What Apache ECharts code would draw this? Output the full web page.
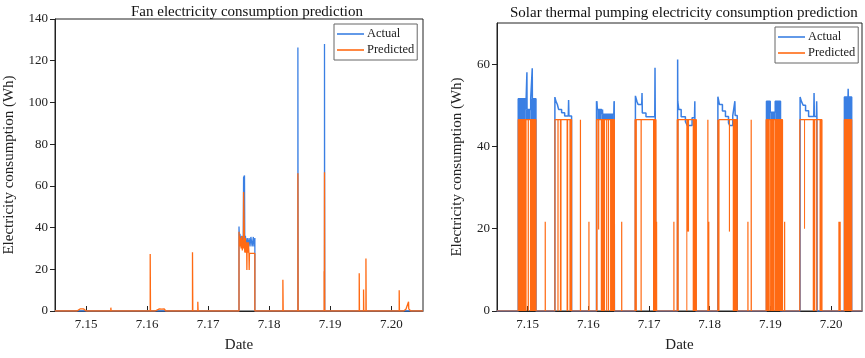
<!DOCTYPE html>
<html>
<head>
<meta charset="utf-8">
<script src="https://cdn.jsdelivr.net/npm/echarts@6/dist/echarts.min.js"></script>
<style>html,body{margin:0;padding:0;background:#fff}#chart{width:865px;height:358px}</style>
</head>
<body>
<div id="chart"></div>
<script>
// x values are days of July (15 -> "7.15")
var dayTicks = [15, 16, 17, 18, 19, 20];
var fanYTicks = [0, 20, 40, 60, 80, 100, 120, 140];
var pumpYTicks = [0, 20, 40, 60];

// fan electricity consumption (Wh)
var fanActual = [
  [14.49,0],[17.505,0],[17.505,40.5],[17.51,36],[17.52,37],[17.53,34],[17.55,36],[17.565,33],[17.575,36],
  [17.58,64],[17.595,65],[17.6,33],[17.61,36],[17.625,30],[17.64,35],[17.655,31],[17.67,35],[17.685,31],
  [17.7,35.5],[17.72,31],[17.74,35.5],[17.75,31],[17.765,35],[17.765,0],
  [18.47,0],[18.47,126.3],[18.474,0],[18.906,0],[18.906,128],[18.91,0],[20.52,0]
];
var fanPredicted = [
  [14.49,0],[14.85,0],[14.87,0.8],[14.9,1],[14.93,0.7],[14.96,1],[14.99,0.8],[15.0,0],
  [15.405,0],[15.405,1.6],[15.41,0],
  [16.05,0],[16.05,27.3],[16.055,0],
  [16.13,0],[16.16,0.8],[16.2,1],[16.24,0.9],[16.28,1],[16.3,1.6],[16.305,0],
  [16.743,0],[16.743,28.2],[16.748,0],
  [16.83,0],[16.83,4.4],[16.835,0],
  [17.505,0],[17.505,38],[17.51,33],[17.515,36],[17.52,31],[17.53,35],[17.54,30],[17.55,36],[17.56,29],
  [17.57,34],[17.578,30],[17.58,57],[17.59,57],[17.595,32],[17.6,28],[17.61,35],[17.62,28],[17.63,33],
  [17.634,19.7],[17.638,33],[17.65,28],[17.66,33],[17.668,27.6],[17.672,19.7],[17.676,27.6],[17.765,27.6],[17.765,0],
  [18.224,0],[18.224,15],[18.229,0],
  [18.47,0],[18.47,66],[18.474,0],
  [18.9,0],[18.9,19],[18.903,0],[18.906,0],[18.906,66.5],[18.91,0],
  [19.475,0],[19.475,18.1],[19.479,0],
  [19.546,0],[19.546,10.3],[19.55,0],
  [19.585,0],[19.585,25.2],[19.589,0],
  [20.13,0],[20.13,9.9],[20.134,0],
  [20.2,0],[20.24,0.8],[20.27,1],[20.283,4.4],[20.287,1],[20.31,1.2],[20.32,0],
  [20.52,0]
];

// solar thermal pumping electricity consumption (Wh)
var pumpActual = [
  [14.49,0],
  [14.845,0],[14.845,51.6],[14.97,51.6],[14.97,49],[14.988,49],[14.988,58],[14.99,49],[15.05,49],[15.05,51.6],
  [15.076,51.6],[15.076,59],[15.078,51.6],[15.137,51.6],[15.137,0],
  [15.449,0],[15.449,52],[15.465,52],[15.465,51],[15.49,51],[15.49,50.2],[15.51,50.2],[15.51,49],[15.56,49],
  [15.56,48.2],[15.61,48.2],[15.61,47.4],[15.67,47.4],[15.675,51.3],[15.68,47.4],[15.724,47.4],[15.724,0],
  [16.135,0],[16.135,51],[16.15,51],[16.15,49],[16.22,49],[16.22,47.8],[16.232,47.8],[16.234,49],[16.236,47.8],
  [16.42,47.8],[16.425,51],[16.43,51],[16.43,0],
  [16.776,0],[16.776,52.3],[16.8,52.3],[16.8,51],[16.82,51],[16.82,50.2],[16.88,50.2],[16.885,53],[16.89,48.1],
  [16.95,48.1],[16.95,47.2],[17.095,47.2],[17.099,59.1],[17.103,47.2],[17.115,47.2],[17.115,0],
  [17.47,0],[17.472,61.1],[17.474,51],[17.49,51],[17.49,49],[17.53,49],[17.53,47.2],[17.6,47.2],[17.6,46],
  [17.63,46],[17.63,45.1],[17.71,45.1],[17.71,47],[17.75,47],[17.755,51],[17.77,51],[17.77,0],
  [18.135,0],[18.135,52.1],[18.16,52.1],[18.16,50.2],[18.21,50.2],[18.21,48.6],[18.26,48.6],[18.26,47.3],
  [18.31,47.3],[18.31,45.7],[18.33,45.7],[18.33,45.1],[18.38,45.1],[18.38,47.5],[18.41,47.5],[18.415,51],
  [18.42,47.5],[18.454,47.5],[18.454,0],
  [18.936,0],[18.936,51],[18.998,51],[18.998,48.3],[19.08,48.3],[19.08,51],[19.167,51],[19.167,0],
  [19.49,0],[19.49,52],[19.51,52],[19.51,51],[19.54,51],[19.54,50],[19.58,50],[19.58,48.7],[19.63,48.7],
  [19.63,47.3],[19.715,47.3],[19.72,53],[19.725,47.3],[19.76,47.3],[19.763,51],[19.767,47.3],[19.77,47.3],[19.77,0],
  [20.22,0],[20.22,52],[20.28,52],[20.282,54],[20.285,52],[20.34,52],[20.34,0],
  [20.52,0]
];
var pumpPredicted = [
  [14.49,0],
  [14.845,0],[14.845,46.5],[15.137,46.5],[15.137,0],
  [15.29,0],[15.29,21.7],[15.291,0],
  [15.449,0],[15.449,46.5],[15.5,46.5],[15.5,0],[15.501,46.5],[15.724,46.5],[15.724,0],
  [15.87,0],[15.87,46.5],[15.871,0],
  [16.01,0],[16.01,21.7],[16.011,0],
  [16.135,0],[16.135,46.5],[16.17,46.5],[16.17,19.8],[16.172,46.5],[16.43,46.5],[16.43,0],
  [16.55,0],[16.55,21.7],[16.551,0],
  [16.77,0],[16.77,46.5],[16.87,46.5],[16.87,0],[16.871,46.5],[17.115,46.5],[17.115,0],
  [17.125,0],[17.125,21.7],[17.126,0],
  [17.41,0],[17.41,21.7],[17.411,0],
  [17.465,0],[17.465,46.5],[17.78,46.5],[17.78,0],
  [17.97,0],[17.97,46.5],[17.971,0],
  [17.985,0],[17.985,21.7],[17.986,0],
  [18.135,0],[18.135,46.5],[18.152,46.5],[18.152,0],[18.153,46.5],[18.454,46.5],[18.454,0],
  [18.63,0],[18.63,21.7],[18.631,0],
  [18.684,0],[18.684,46.5],[18.686,0],
  [18.93,0],[18.93,46.5],[19.2,46.5],[19.2,0],
  [19.235,0],[19.235,21.7],[19.236,0],
  [19.485,0],[19.485,46.5],[19.765,46.5],[19.765,0],[19.766,46.5],[19.85,46.5],[19.85,0],
  [20.13,0],[20.13,21.7],[20.131,0],
  [20.15,0],[20.15,21.7],[20.151,0],
  [20.22,0],[20.22,46.5],[20.34,46.5],[20.34,0],
  [20.52,0]
];
// stretches of fast on/off switching that read as solid blocks: [from, to, low, high]
var pumpActualBlocks = [
  [14.845,14.97,46.5,51.6],[14.97,15.05,46.5,49],[15.05,15.137,46.5,51.6],
  [16.135,16.15,46.5,51],[16.15,16.22,46.5,49],[16.22,16.42,46.5,47.8],[16.42,16.43,46.5,51],
  [18.936,18.998,46.5,51],[18.998,19.08,46.5,48.3],[19.08,19.167,46.5,51],
  [20.22,20.34,46.5,52]
];
var pumpPredictedBlocks = [
  [14.845,14.983,0,46.5],[15.0,15.021,0,46.5],[15.038,15.137,0,46.5],
  [15.531,15.559,0,46.5],[15.641,15.668,0,46.5],[15.688,15.72,0,46.5],
  [16.135,16.15,0,46.5],[16.205,16.276,0,46.5],[16.293,16.31,0,46.5],[16.32,16.342,0,46.5],[16.358,16.43,0,46.5],
  [16.77,16.8,0,46.5],[17.066,17.115,0,46.5],
  [17.465,17.49,0,46.5],[17.615,17.625,0,46.5],[17.625,17.66,19.3,46.5],[17.72,17.78,0,46.5],
  [18.316,18.335,19.3,46.5],[18.38,18.454,0,46.5],
  [18.93,18.99,0,46.5],[18.995,19.06,0,46.5],[19.065,19.2,0,46.5],
  [19.555,19.57,20,46.5],[19.698,19.74,0,46.5],[19.81,19.85,0,46.5],
  [20.22,20.34,0,46.5]
];

var blue = '#3a7fe3';
var orange = '#ff6a13';
var serif = 'Liberation Serif';
var ink = '#222';

function blockRenderer(color) {
  return function (params, api) {
    var p0 = api.coord([api.value(0), api.value(3)]);
    var p1 = api.coord([api.value(1), api.value(2)]);
    return {
      type: 'rect',
      shape: {x: p0[0], y: p0[1], width: Math.max(p1[0] - p0[0], 1), height: p1[1] - p0[1]},
      style: {fill: color}
    };
  };
}

function xAxisFor(gi, min, max) {
  return {
    type: 'value', gridIndex: gi, min: min, max: max,
    name: 'Date', nameLocation: 'middle', nameGap: 27,
    nameTextStyle: {fontFamily: serif, fontSize: 15, color: ink},
    axisLine: {lineStyle: {color: ink}},
    axisTick: {inside: true, length: 5, customValues: dayTicks, lineStyle: {color: ink}},
    axisLabel: {customValues: dayTicks, margin: 7, fontFamily: serif, fontSize: 13, color: ink,
      formatter: function (v) { return '7.' + Math.round(v); }},
    splitLine: {show: false}
  };
}
function yAxisFor(gi, max, ticks, gap) {
  return {
    type: 'value', gridIndex: gi, min: 0, max: max,
    name: 'Electricity consumption (Wh)', nameLocation: 'middle', nameGap: gap, nameRotate: 90,
    nameTextStyle: {fontFamily: serif, fontSize: 15, color: ink},
    axisLine: {show: true, lineStyle: {color: ink}},
    axisTick: {show: true, length: 5, customValues: ticks, lineStyle: {color: ink}},
    axisLabel: {customValues: ticks, margin: 7, fontFamily: serif, fontSize: 13, color: ink},
    splitLine: {show: false}
  };
}
function lineSeries(name, data, color, idx, z, w) {
  return {
    name: name, type: 'line', data: data, xAxisIndex: idx, yAxisIndex: idx,
    symbol: 'none', showSymbol: false, z: z,
    lineStyle: {color: color, width: w}, itemStyle: {color: color}
  };
}
function legendFor(left, top) {
  return {
    data: ['Actual', 'Predicted'], orient: 'vertical', left: left, top: top,
    icon: 'rect', itemWidth: 27, itemHeight: 1.6, itemGap: 2, padding: [3, 3, 3, 3],
    borderColor: '#666', borderWidth: 1, borderRadius: 0,
    textStyle: {fontFamily: serif, fontSize: 12.5, color: ink, lineHeight: 14, padding: [0, 0, 0, -2]}
  };
}

var chart = echarts.init(document.getElementById('chart'), null, {renderer: 'canvas'});
chart.setOption({
  animation: false,
  backgroundColor: '#fff',
  title: [
    {text: 'Fan electricity consumption prediction', left: 126, top: 0,
      textStyle: {fontFamily: serif, fontSize: 15, fontWeight: 'normal', color: '#111'}},
    {text: 'Solar thermal pumping electricity consumption prediction', left: 505, top: 1,
      textStyle: {fontFamily: serif, fontSize: 15, fontWeight: 'normal', color: '#111'}}
  ],
  legend: [legendFor(334, 24), legendFor(775, 27)],
  grid: [
    {left: 55, top: 19, width: 368, height: 296, show: true, borderColor: ink, borderWidth: 1},
    {left: 497, top: 23, width: 365, height: 293, show: true, borderColor: ink, borderWidth: 1}
  ],
  xAxis: [xAxisFor(0, 14.49, 20.52), xAxisFor(1, 14.495, 20.51)],
  yAxis: [yAxisFor(0, 140, fanYTicks, 38), yAxisFor(1, 70, pumpYTicks, 32)],
  series: [
    lineSeries('Actual', fanActual, blue, 0, 2, 1.3),
    lineSeries('Predicted', fanPredicted, orange, 0, 4, 1.3),
    {name: 'actual blocks', type: 'custom', xAxisIndex: 1, yAxisIndex: 1, z: 1,
      data: pumpActualBlocks, encode: {x: [0, 1], y: [2, 3]}, renderItem: blockRenderer(blue)},
    lineSeries('Actual', pumpActual, blue, 1, 2, 1.5),
    {name: 'predicted blocks', type: 'custom', xAxisIndex: 1, yAxisIndex: 1, z: 3,
      data: pumpPredictedBlocks, encode: {x: [0, 1], y: [2, 3]}, renderItem: blockRenderer(orange)},
    lineSeries('Predicted', pumpPredicted, orange, 1, 4, 1.2)
  ]
});
</script>
</body>
</html>
